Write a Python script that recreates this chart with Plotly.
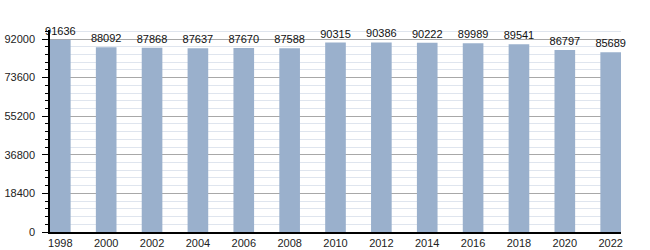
import plotly.graph_objects as go

years = ["1998", "2000", "2002", "2004", "2006", "2008", "2010", "2012",
         "2014", "2016", "2018", "2020", "2022"]
population = [91636, 88092, 87868, 87637, 87670, 87588, 90315, 90386,
              90222, 89989, 89541, 86797, 85689]
y_ticks = [0, 18400, 36800, 55200, 73600, 92000]

fig = go.Figure()
fig.add_trace(go.Bar(
    x=years, y=population,
    marker=dict(color="rgb(154,176,204)", line=dict(width=0)),
    text=[str(v) for v in population],
    textposition="outside",
    constraintext="none",
    textfont=dict(family="Liberation Sans, Arial, sans-serif", size=11, color="#111"),
    cliponaxis=False,
    width=0.45,
))

fig.update_layout(
    width=650, height=250,
    margin=dict(l=50, r=29, t=30, b=18, autoexpand=False),
    paper_bgcolor="white", plot_bgcolor="white",
    showlegend=False,
    font=dict(family="Liberation Sans, Arial, sans-serif", size=11, color="#222"),
)
fig.update_xaxes(
    type="category",
    range=[-0.225, 12.225],
    showline=True, linecolor="black", linewidth=1.5,
    ticks="", showgrid=False, automargin=False,
    tickfont=dict(size=11, color="#222"),
    ticklabelstandoff=0,
)
fig.update_yaxes(
    range=[0, 96300],
    tickvals=y_ticks,
    ticktext=[str(v) for v in y_ticks],
    showline=True, linecolor="black", linewidth=1.5,
    ticks="outside", ticklen=6, tickcolor="black", tickwidth=1,
    showgrid=True, gridcolor="#a8a8a8", gridwidth=1,
    zeroline=False, automargin=False,
    ticklabelstandoff=5,
    minor=dict(dtick=3680, tick0=0, showgrid=True, gridcolor="#dfe5ee",
               ticks="outside", ticklen=3, tickcolor="black"),
    tickfont=dict(size=11, color="#222"),
)

fig.write_html("out.html")
